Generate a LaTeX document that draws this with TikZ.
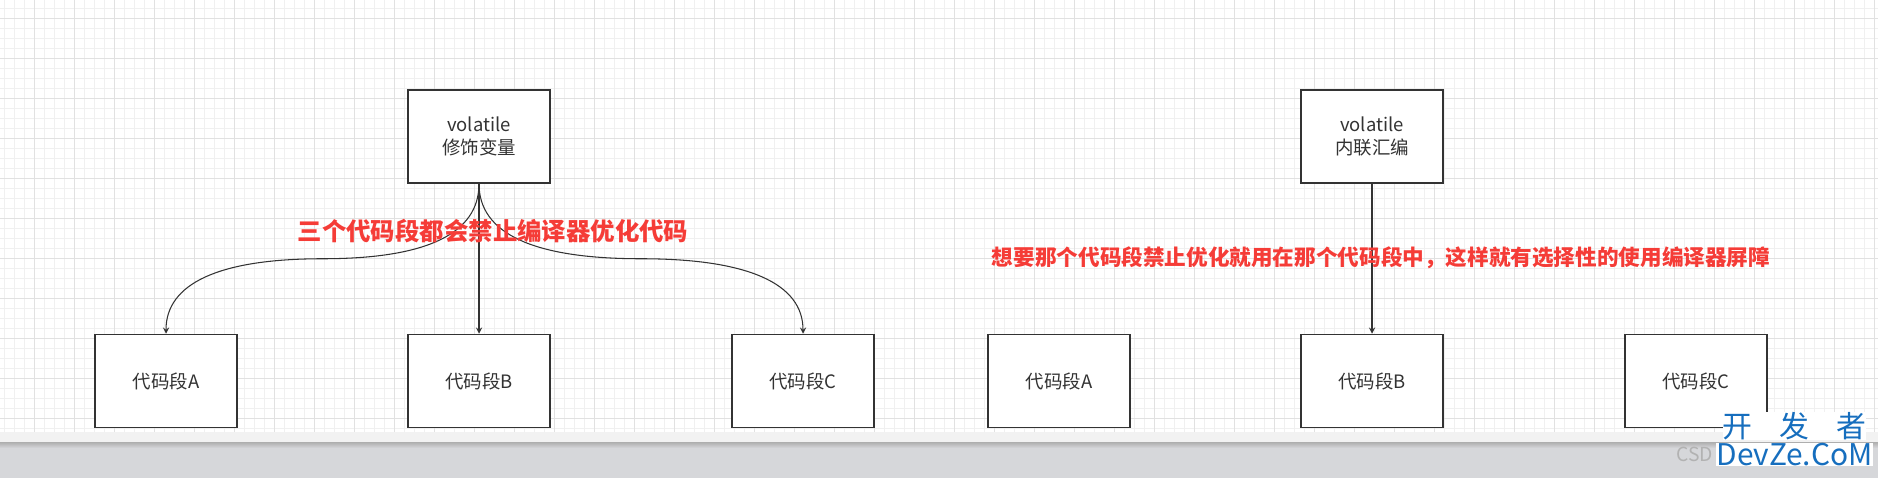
\documentclass[tikz,border=0pt]{standalone}
\usepackage{fontspec}
\setmainfont{Noto Sans CJK SC}
\newfontfamily\negrita{Noto Sans CJK SC Black}
\usepackage{xcolor}
\usepackage{tikz}
\usetikzlibrary{arrows, positioning, calc}
\definecolor{lineadark}{RGB}{51,51,51}
\definecolor{rojotxt}{RGB}{245,60,55}
\definecolor{gridmin}{RGB}{240,240,240}
\definecolor{gridmaj}{RGB}{225,225,225}
\definecolor{barragris}{RGB}{214,215,218}
\definecolor{wmblue}{RGB}{22,110,190}
\tikzset{
  caja/.style={rectangle, minimum width=2.84cm, minimum height=1.86cm, align=center, draw=lineadark, line width=0.85pt, fill=white, text=lineadark, font=\fontsize{10.5pt}{13pt}\selectfont},
  arrow/.style={->,>=stealth, line width=0.6pt, color=lineadark}
}

\begin{document}
\begin{tikzpicture}[
  rojo/.style={text=rojotxt, inner sep=0pt},
  marca/.style={fill=white, text=wmblue, inner sep=0pt}]
  \useasboundingbox (0,0) rectangle (37.56,-9.56);
  % Fondo: rejilla y barra inferior
  \begin{scope}
    \clip (0,0) rectangle (37.56,-8.634);
    \draw [gridmin, line width=0.55pt, step=0.2, shift={(0.086,-0.166)}] (-0.4,0.4) grid (37.8,-9);
    \draw [gridmaj, line width=0.55pt, step=0.8, shift={(0.686,-0.366)}] (-0.8,0.8) grid (37.8,-9.6);
  \end{scope}
  \fill [gray!10] (0,-8.634) rectangle (37.56,-8.854);
  \fill [barragris] (0,-8.854) rectangle (37.56,-9.56);
  \shade [top color=gray!60, bottom color=barragris] (0,-8.854) rectangle (37.56,-8.96);
  % Panel izquierdo: volatile modificando variable
  \node (v1) [caja] at (9.58,-2.73) {volatile\\修饰变量};
  \node (b1) [caja, below=3cm of v1] {代码段B};
  \node (a1) [caja, left=3.39cm of b1] {代码段A};
  \node (c1) [caja, right=3.61cm of b1] {代码段C};
  \draw [arrow] (v1) -- (b1);
  \draw [arrow] (v1.south) .. controls +(0,-1) and +(2.08,0) .. ($(v1.south)!.5!(a1.north)$) .. controls +(-2.08,0) and +(0,1) .. (a1.north);
  \draw [arrow] (v1.south) .. controls +(0,-1) and +(-2.15,0) .. ($(v1.south)!.5!(c1.north)$) .. controls +(2.15,0) and +(0,1) .. (c1.north);
  \node (nota1) [rojo, font=\negrita\fontsize{13.9pt}{16pt}\selectfont] at (9.86,-4.63) {三个代码段都会禁止编译器优化代码};
  % Panel derecho: volatile en ensamblador en linea
  \node (v2) [caja] at (27.44,-2.73) {volatile\\内联汇编};
  \node (b2) [caja, below=3cm of v2] {代码段B};
  \node (a2) [caja, left=3.39cm of b2] {代码段A};
  \node (c2) [caja, right=3.61cm of b2] {代码段C};
  \draw [arrow] (v2) -- (b2);
  \node (nota2) [rojo, font=\negrita\fontsize{12.3pt}{14pt}\selectfont] at (27.62,-5.16) {想要那个代码段禁止优化就用在那个代码段中，这样就有选择性的使用编译器屏障};
  % Marca de agua
  \node (wm1) [marca, font=\fontsize{17pt}{19pt}\selectfont] at (35.89,-8.52) {开\hspace{0.54cm}发\hspace{0.54cm}者};
  \node (wm2) [marca, below=1.5pt of wm1, font=\fontsize{17pt}{19pt}\selectfont] {DevZe.CoM};
  \node (csd) [text=gray!60, left=1.5pt of wm2, inner sep=0pt, font=\fontsize{11pt}{13pt}\selectfont] {CSD};
\end{tikzpicture}
\end{document}
